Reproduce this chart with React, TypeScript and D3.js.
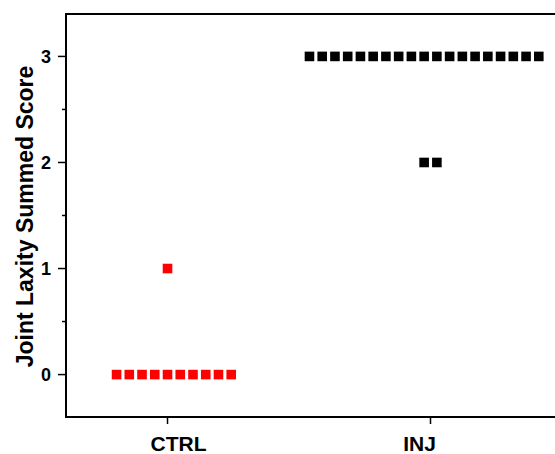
import React from 'react'
import * as d3 from 'd3'

const groups = ['CTRL', 'INJ']
const ctrlScores = [0, 0, 0, 0, 0, 0, 0, 0, 0, 0, 1]
const injScores = [3, 3, 3, 3, 3, 3, 3, 3, 3, 3, 3, 3, 3, 3, 3, 3, 3, 3, 3, 2, 2]
const yTicks = [0, 1, 2, 3]
const colors = ['#ff0000', '#000000']

// where each row of stacked points starts, in point steps from the group centre
const rowStart: Record<string, number> = { 'CTRL-0': -4, 'CTRL-1': 0, 'INJ-3': -9.5, 'INJ-2': -0.5 }
const labelShift = [11, -11]

const W = 555
const H = 454
const left = 66
const top = 14
const bottom = 417
const right = 562
const step = 12.74
const size = 9.6

export default function App() {
  const x = d3.scaleLinear().domain([-0.386, 1.5]).range([left, right])
  const y = d3.scaleLinear().domain([-0.4, 3.4]).range([bottom, top])

  const points: { cx: number; cy: number; color: string }[] = []
  ;[ctrlScores, injScores].forEach((scores, gi) => {
    const rows = d3.group(scores, (s) => s)
    rows.forEach((vals, score) => {
      const start = rowStart[`${groups[gi]}-${score}`] ?? -(vals.length - 1) / 2
      vals.forEach((_, k) => {
        points.push({ cx: x(gi) + (start + k) * step, cy: y(score), color: colors[gi] })
      })
    })
  })

  const minor = d3.range(-0.5, 3.5, 0.5).filter((v) => !Number.isInteger(v) && v > -0.4)

  return (
    <svg
      width={W}
      height={H}
      style={{ position: 'absolute', left: 0, top: 0, background: '#fff' }}
      fontFamily="'Liberation Sans', Arial, sans-serif"
      fontWeight="bold"
    >
      <rect x={0} y={0} width={W} height={H} fill="#fff" />
      {points.map((p, i) => (
        <rect key={i} x={p.cx - size / 2} y={p.cy - size / 2} width={size} height={size} fill={p.color} />
      ))}
      {/* frame */}
      <line x1={left} x2={right} y1={top} y2={top} stroke="#000" strokeWidth={2} />
      <line x1={left} x2={right} y1={bottom} y2={bottom} stroke="#000" strokeWidth={2} />
      <line x1={left} x2={left} y1={top - 1} y2={bottom + 1} stroke="#000" strokeWidth={2} />
      {/* y axis */}
      {yTicks.map((t) => (
        <g key={t}>
          <line x1={left - 8} x2={left} y1={y(t)} y2={y(t)} stroke="#000" strokeWidth={1.5} />
          <text x={left - 15} y={y(t)} dy="0.36em" textAnchor="end" fontSize={18}>
            {t}
          </text>
        </g>
      ))}
      {minor.map((t) => (
        <line key={t} x1={left - 4} x2={left} y1={y(t)} y2={y(t)} stroke="#000" strokeWidth={1.5} />
      ))}
      {/* x axis */}
      {groups.map((g, i) => (
        <g key={g}>
          <line x1={x(i)} x2={x(i)} y1={bottom} y2={bottom + 7} stroke="#000" strokeWidth={1.5} />
          <text x={x(i) + labelShift[i]} y={bottom + 34} textAnchor="middle" fontSize={21}>
            {g}
          </text>
        </g>
      ))}
      <text
        transform={`translate(33, ${(top + bottom) / 2 + 1}) rotate(-90)`}
        textAnchor="middle"
        fontSize={23}
      >
        Joint Laxity Summed Score
      </text>
    </svg>
  )
}
